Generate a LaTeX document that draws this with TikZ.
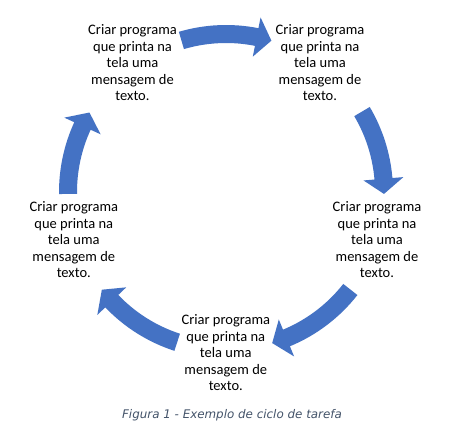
\documentclass[tikz,border=0pt]{standalone}
\usepackage{fontspec}
\setmainfont{Carlito}
\newfontfamily\capfont{DejaVu Sans}
\definecolor{arrowblue}{HTML}{4472C4}
\definecolor{capgrey}{HTML}{44546A}
\newcommand\cyclearrow[2]{%
  \pgfmathsetmacro\hb{#2+5.5}%
  \fill[arrowblue] (#1:167) arc[start angle=#1, end angle=\hb, radius=167]
    -- (\hb:178) -- (#2:158) -- (\hb:138) -- (\hb:149)
    arc[start angle=\hb, end angle=#1, radius=149] -- cycle;}
\begin{document}
\begin{tikzpicture}[x=1pt,y=1pt,
  steptext/.style={align=center, font=\fontsize{14.5}{16.5}\selectfont, inner sep=0pt, text=black},
  captext/.style={font=\capfont\itshape\fontsize{11.9}{14}\selectfont, text=capgrey, anchor=base, inner sep=0pt}]
\useasboundingbox (0,0) rectangle (452,437);
\fill[white] (0,0) rectangle (452,437);
\begin{scope}[shift={(226,245)}]
  \cyclearrow{106.4}{73.3}
  \cyclearrow{30.6}{-0.7}
  \cyclearrow{-38.1}{-73}
  \cyclearrow{-108}{-141.8}
  \cyclearrow{180.7}{149.8}
\end{scope}
\node[steptext] (n1) at (132.5,374.3) {Criar programa\\que printa na\\tela uma\\mensagem de\\texto.};
\node[steptext] (n2) at (320,374.3) {Criar programa\\que printa na\\tela uma\\mensagem de\\texto.};
\node[steptext] (n3) at (377,197) {Criar programa\\que printa na\\tela uma\\mensagem de\\texto.};
\node[steptext] (n4) at (225.8,84.1) {Criar programa\\que printa na\\tela uma\\mensagem de\\texto.};
\node[steptext] (n5) at (73.8,197) {Criar programa\\que printa na\\tela uma\\mensagem de\\texto.};
\node[captext] (cap) at (232,18.7) {Figura 1 - Exemplo de ciclo de tarefa};
\end{tikzpicture}
\end{document}
